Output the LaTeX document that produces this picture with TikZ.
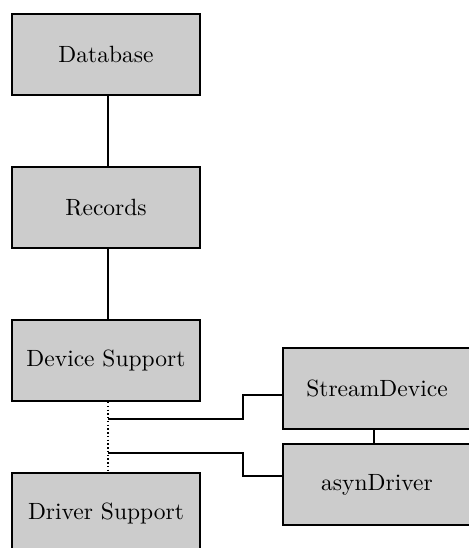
\documentclass[tikz,border=0pt]{standalone}
\usetikzlibrary{calc}
\begin{document}
\begin{tikzpicture}[x=0.4255pt,y=-0.4255pt,
  box/.style={draw, line width=0.85pt, fill=black!20, minimum width=80pt, minimum height=34.5pt, inner sep=0pt},
  conn/.style={line width=0.85pt},
  dots/.style={line width=0.6pt, densely dotted}]
\clip (0,0) rectangle (469,548);
\node[box] (db)   at (106,54.5)  {Database};
\node[box] (rec)  at (106,207.5) {Records};
\node[box] (dev)  at (106,360.5) {Device Support};
\node[box] (drv)  at (106,513.5) {Driver Support};
\node[box] (sd)   at (377,388.5) {StreamDevice};
\node[box] (asyn) at (377,484.5) {asynDriver};
\draw[conn] ($(db.south)+(2,0)$) -- ($(rec.north)+(2,0)$);
\draw[conn] ($(rec.south)+(2,0)$) -- ($(dev.north)+(2,0)$);
\draw[dots] ($(dev.south)+(2,0)$) -- ($(drv.north)+(2,0)$);
\coordinate (b1) at ($(dev.south)+(2,17)$);
\coordinate (b2) at ($(dev.south)+(2,51)$);
\draw[conn] (b1) -| ($(sd.west)+(-39,6.5)$) -- ($(sd.west)+(0,6.5)$);
\draw[conn] (b2) -| ($(asyn.west)+(-39,-9)$) -- ($(asyn.west)+(0,-9)$);
\draw[conn] ($(sd.south)+(-3,0)$) -- ($(asyn.north)+(-3,0)$);
\end{tikzpicture}
\end{document}
